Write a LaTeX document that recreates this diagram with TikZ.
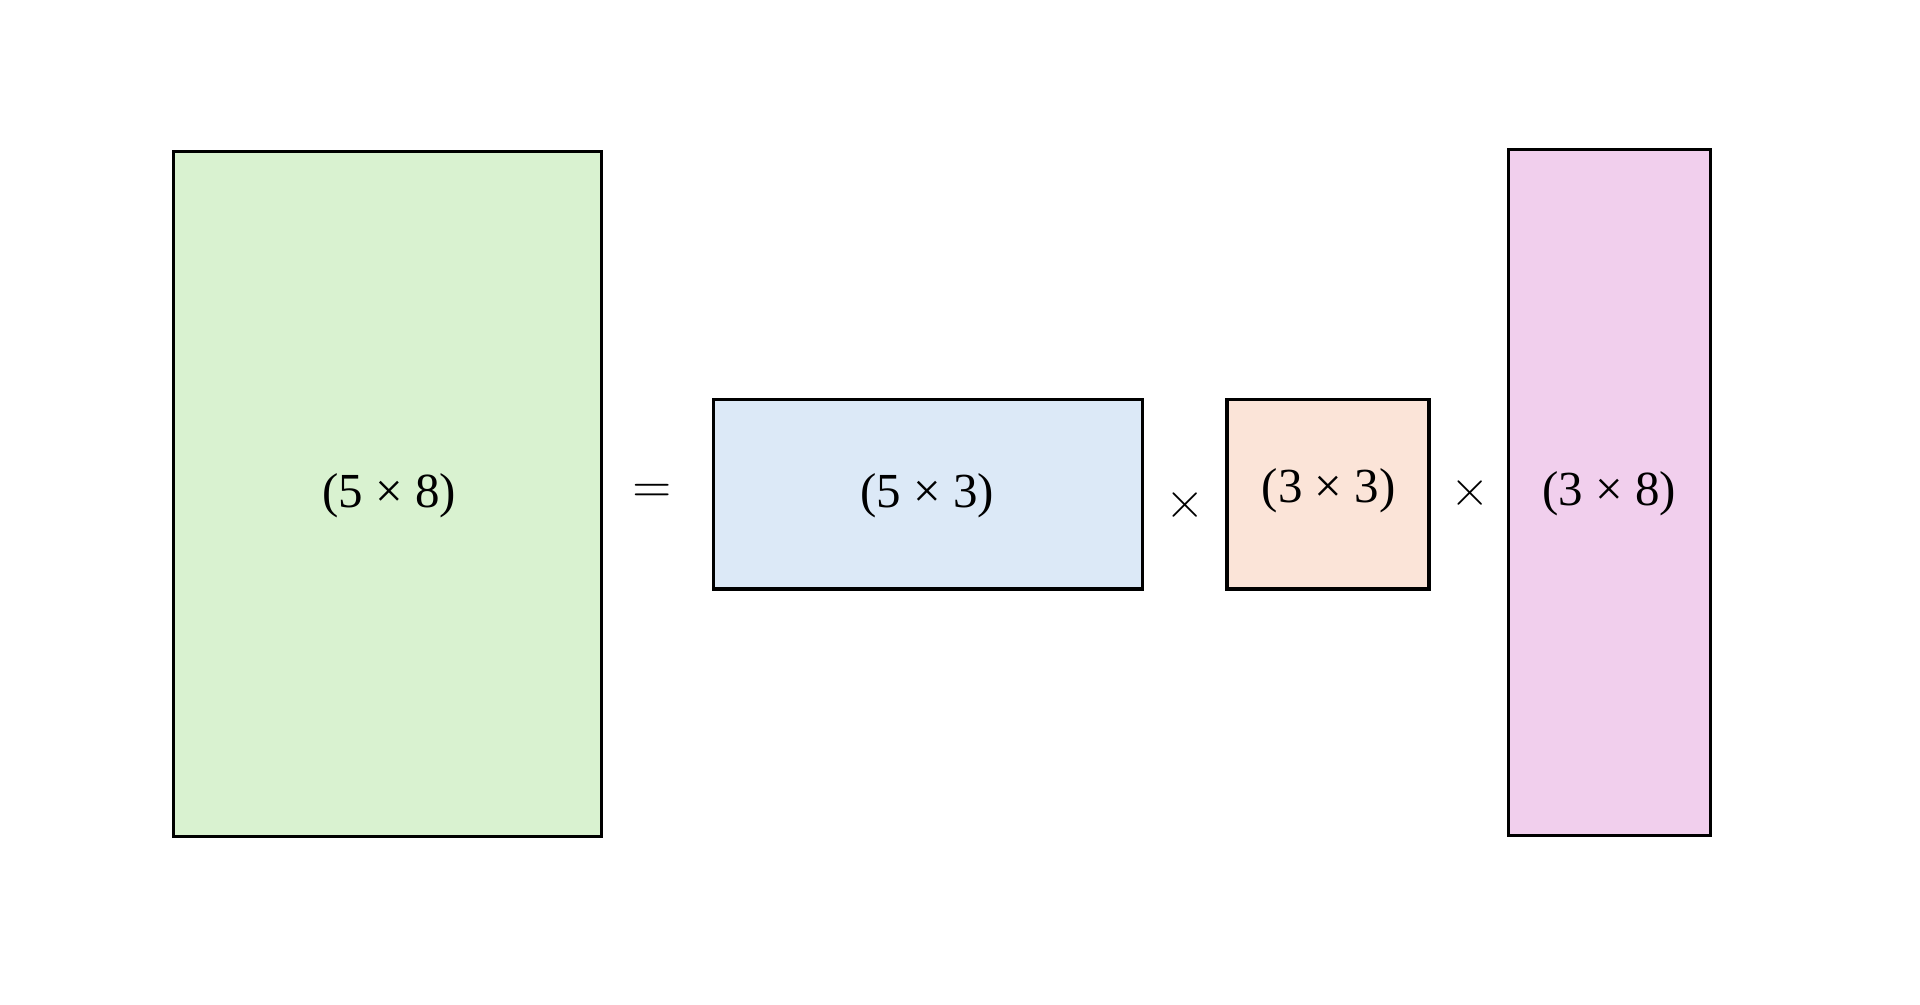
\documentclass[tikz,border=0pt]{standalone}
\usepackage{fontspec}
\setmainfont{Liberation Serif}
\begin{document}
\begin{tikzpicture}[x=1pt,y=-1pt,
  box/.style={draw=black,line width=2.6pt},
  lab/.style={font=\fontsize{40}{44}\selectfont,inner sep=0pt},
  op/.style={font=\fontsize{44}{48}\selectfont\sffamily,inner sep=0pt}]
\useasboundingbox (0,0) rectangle (1568,820);
\fill[white] (0,0) rectangle (1568,820);
\draw[box,fill={rgb,255:red,217;green,242;blue,208}] (142,124) rectangle (491,683);
\draw[box,fill={rgb,255:red,220;green,233;blue,247}] (583,326) rectangle (933,481);
\draw[box,fill={rgb,255:red,251;green,228;blue,216}] (1002,326) rectangle (1167,481);
\draw[box,fill={rgb,255:red,241;green,207;blue,237}] (1232,122) rectangle (1397,682);
\node[lab] (a) at (318,405) {(5 × 8)};
\node[lab] (b) at (757,405) {(5 × 3)};
\node[lab] (c) at (1085,401) {(3 × 3)};
\node[lab] (d) at (1314,403) {(3 × 8)};
\node[op] (eq) at (533,403) {=};
\node[op] (m1) at (968,413) {×};
\node[op] (m2) at (1201,403) {×};
\end{tikzpicture}
\end{document}
